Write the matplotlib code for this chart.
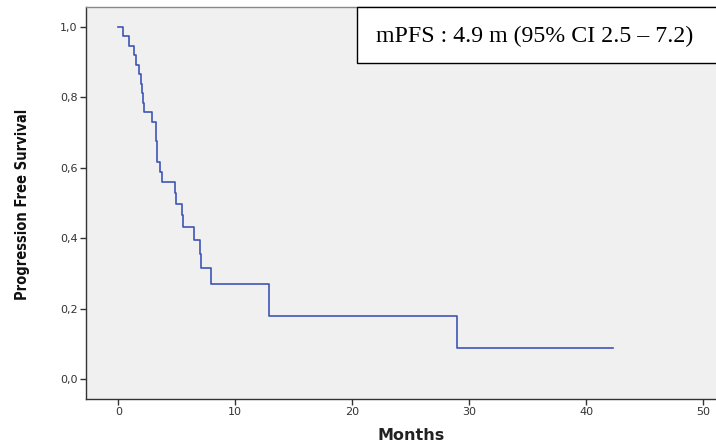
import matplotlib
matplotlib.use("Agg")
import matplotlib.pyplot as plt
from matplotlib.patches import Rectangle
from matplotlib.ticker import FuncFormatter

# Kaplan-Meier steps (time in months, survival after the drop)
step_times = [0, 0.4, 0.9, 1.3, 1.5, 1.8, 1.95, 2.05, 2.1, 2.15, 2.85, 3.2, 3.25,
              3.28, 3.3, 3.6, 3.7, 4.85, 4.9, 5.4, 5.55, 6.5, 6.95, 7.05, 7.9, 12.9, 29.0]
step_surv = [1.0, 0.973, 0.946, 0.919, 0.892, 0.865, 0.838, 0.811, 0.784, 0.757, 0.730,
             0.703, 0.676, 0.649, 0.617, 0.589, 0.561, 0.530, 0.497, 0.466, 0.431, 0.395,
             0.356, 0.317, 0.271, 0.180, 0.090]
last_followup = 42.3

x_ticks = [0, 10, 20, 30, 40, 50]
y_ticks = [0.0, 0.2, 0.4, 0.6, 0.8, 1.0]
annotation = "mPFS : 4.9 m (95% CI 2.5 \u2013 7.2)"

fig = plt.figure(figsize=(7.16, 4.46), dpi=100)
ax = fig.add_axes([86 / 716, 1 - 399 / 446, 1 - 86 / 716 + 0.01, (399 - 7) / 446])
ax.set_facecolor('#f0f0f0')

xs = step_times + [last_followup]
ys = step_surv + [step_surv[-1]]
ax.step(xs, ys, where='post', color='#3f55b5', linewidth=1.2)

ax.set_xlim(-2.77, 51.73)
ax.set_ylim(-0.0553, 1.0558)
ax.set_xticks(x_ticks)
ax.set_yticks(y_ticks)
ax.yaxis.set_major_formatter(FuncFormatter(lambda v, p: f'{v:.1f}'.replace('.', ',')))

for side in ['left', 'bottom']:
    ax.spines[side].set_color('#333333')
    ax.spines[side].set_linewidth(1.0)
ax.spines['top'].set_color('#888888')
ax.spines['top'].set_linewidth(1.0)
ax.spines['right'].set_visible(False)

ax.tick_params(axis='both', direction='out', length=4.5, width=1.0, color='#333333',
               labelsize=8, labelcolor='#333333', pad=1.5)

fig.text(411 / 716, 1 - 436 / 446, 'Months', ha='center', va='center',
         fontsize=11.5, fontweight='bold', color='#222222')
fig.text(23 / 716, 1 - 204 / 446, 'Progression Free Survival', rotation=90,
         ha='center', va='center', fontsize=10.5, fontweight='bold', color='#111111',
         family=['DejaVu Sans'], fontstretch='condensed')

# annotation box in the top right corner
box = Rectangle((356.5 / 716, 1 - 63.3 / 446), 0.6, (63.3 - 7.3) / 446,
                transform=fig.transFigure, facecolor='white', edgecolor='black',
                linewidth=1.0, zorder=5)
fig.add_artist(box)
fig.text(376 / 716, 1 - 36 / 446, annotation, ha='left', va='center',
         fontsize=17.2, family='Liberation Serif', color='black', zorder=6)

fig.savefig('out.png', dpi=100, facecolor='white')
